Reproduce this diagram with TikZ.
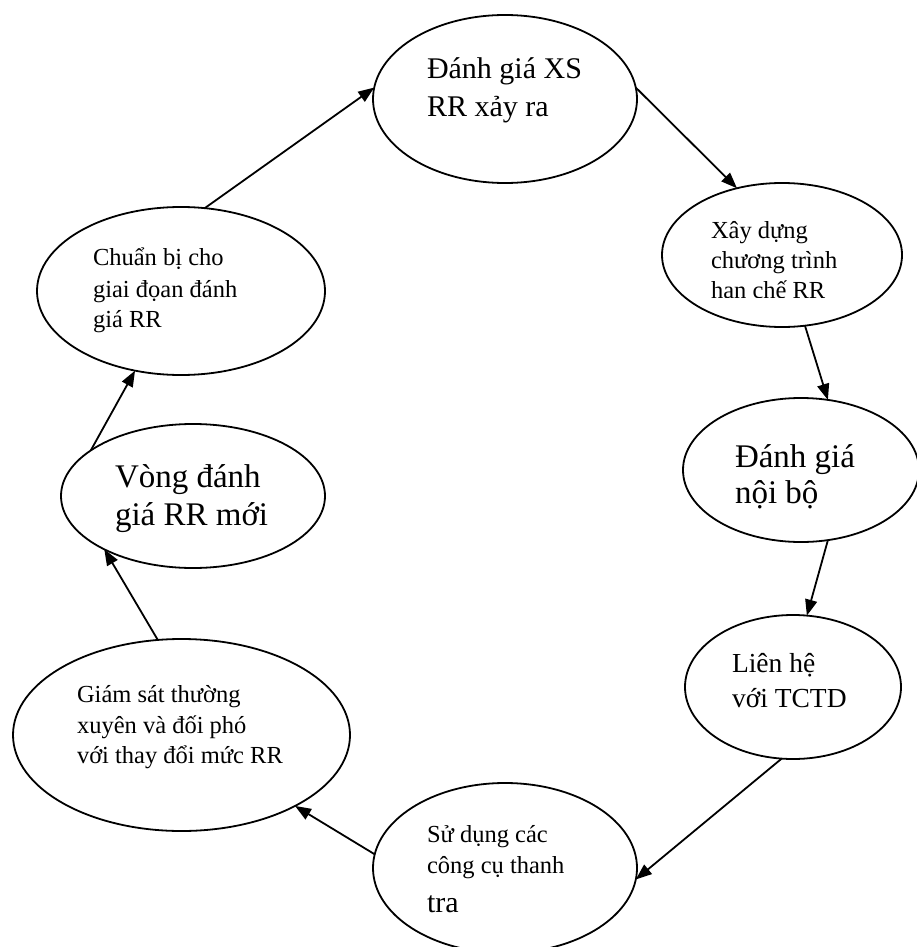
\documentclass[tikz,border=0pt]{standalone}
\usepackage{fontspec}
\setmainfont{Liberation Serif}
\usetikzlibrary{shapes.geometric,arrows.meta}
\begin{document}
\begin{tikzpicture}[x=1pt,y=-1pt,
  oval/.style={draw, ellipse, line width=1.8pt, inner sep=0pt, outer sep=0pt},
  lbl/.style={anchor=base west, inner sep=0pt, outer sep=0pt},
  txs/.style={font=\fontsize{24.5}{30}\selectfont},
  txm/.style={font=\fontsize{27.5}{33}\selectfont},
  txl/.style={font=\fontsize{30}{36}\selectfont},
  txx/.style={font=\fontsize{33}{38}\selectfont},
  flow/.style={line width=1.8pt, -{Triangle[length=16pt,width=12pt]}}]
\useasboundingbox (0,0) rectangle (917,947);

% ellipses
\node[oval, minimum width=264pt, minimum height=168pt] (xs) at (505,99) {};
\node[oval, minimum width=240pt, minimum height=144pt] (xd) at (782,255) {};
\node[oval, minimum width=236pt, minimum height=144pt] (nb) at (801,470) {};
\node[oval, minimum width=216pt, minimum height=144pt] (lh) at (793,687) {};
\node[oval, minimum width=264pt, minimum height=170pt] (sd) at (505,868) {};
\node[oval, minimum width=337pt, minimum height=192pt] (gs) at (181.5,735) {};
\node[oval, minimum width=264pt, minimum height=144pt] (vd) at (193,496) {};
\node[oval, minimum width=288pt, minimum height=168pt] (cb) at (181,291) {};

% texts
\node[lbl, txl] (xs1) at (427,79) {Đánh giá XS};
\node[lbl, txl] (xs2) at (427,117) {RR xảy ra};

\node[lbl, txs] (xd1) at (711,238) {Xây dựng};
\node[lbl, txs] (xd2) at (711,268) {chương trình};
\begin{scope}
  \clip (700,270) rectangle (917,297);
  \node[lbl, txs] (xd3) at (711,298.5) {hạn chế RR};
\end{scope}

\node[lbl, txx] (nb1) at (735,467) {Đánh giá};
\node[lbl, txx] (nb2) at (735,503) {nội bộ};

\node[lbl, txm] (lh1) at (732,672) {Liên hệ};
\node[lbl, txm] (lh2) at (732,707) {với TCTD};

\node[lbl, txs] (sd1) at (427,842) {Sử dụng các};
\node[lbl, txs] (sd2) at (427,873) {công cụ thanh};
\node[lbl, txl] (sd3) at (427,912) {tra};

\node[lbl, txs] (gs1) at (77,702) {Giám sát thường};
\node[lbl, txs] (gs2) at (77,733) {xuyên và đối phó};
\node[lbl, txs] (gs3) at (77,763) {với thay đổi mức RR};

\node[lbl, txx] (vd1) at (115,487) {Vòng đánh};
\node[lbl, txx] (vd2) at (115,525) {giá RR mới};

\node[lbl, txs] (cb1) at (93,265) {Chuẩn bị cho};
\node[lbl, txs] (cb2) at (93,297) {giai đọan đánh};
\node[lbl, txs] (cb3) at (93,327) {giá RR};

% connectors
\draw[flow] (cb.74) -- (xs.175.2);
\draw[flow] (xs.5.2) -- (xd.124.2);
\draw[flow] (xd.288.4) -- (nb.69.4);
\draw[flow] (nb.291) -- (lh.79);
\draw[flow] (lh.261.3) -- (sd.355.7);
\draw[flow] (sd.174.4) -- (gs.328.3);
\draw[flow] (gs.104.2) -- (vd.211.3);
\draw[flow] (vd.156) -- (cb.240.8);
\end{tikzpicture}
\end{document}
